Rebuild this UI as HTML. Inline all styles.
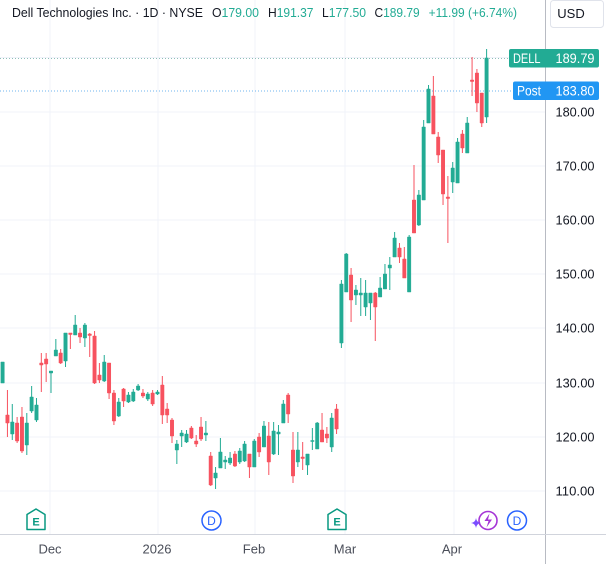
<!DOCTYPE html>
<html><head><meta charset="utf-8"><style>
html,body{margin:0;padding:0;background:#fff;}
svg{display:block;}
text{font-family:"Liberation Sans",sans-serif;}
</style></head><body>
<svg width="606" height="564" viewBox="0 0 606 564" xmlns="http://www.w3.org/2000/svg">
<rect width="606" height="564" fill="#fff"/>
<!-- grid -->
<g stroke="#f0f3fa" stroke-width="1">
<path d="M0 57.5H545M0 112H545M0 166H545M0 220H545M0 274H545M0 328H545M0 383H545M0 437H545M0 491H545"/>
<path d="M50 0V534M158 0V534M255 0V534M345 0V534M454 0V534"/>
</g>
<!-- price lines -->
<path d="M0 58.5H509" stroke="#8fbfb8" stroke-width="1" stroke-dasharray="1 2"/>
<path d="M0 91H513" stroke="#6fb4ef" stroke-width="1" stroke-dasharray="1 2"/>
<!-- up wicks -->
<path stroke="#22ab94" stroke-width="1" fill="none" d="M2.6 362V383M12.28 404V440M26.8 413V455M31.64 386V413M36.48 398V422M51 371V393M55.84 339V356M65.52 333V367M75.2 315V335M84.88 323V347M104.24 355V382M118.76 398V417M128.44 392V403M133.28 389V402M138.12 384V391M147.8 392V401M157.48 390V395M176.84 440V464M181.68 430V447M186.52 430V443M205.88 421V441M215.56 467V489M220.4 438V468M225.24 456V469M230.08 452V465M239.76 448V464M244.6 441V462M254.28 439V467M263.96 421V447M273.64 422V455M278.48 425V455M283.32 400V423M297.84 432V467M307.52 454V475M312.36 428V450M317.2 422V449M331.72 413V452M341.4 280V348M346.24 253V292M355.92 285V305M360.76 278V316M365.6 280V316M370.44 293V320M380.12 277V297M384.96 264V289M389.8 257V290M394.64 232V257M409.16 235V292M418.84 190V226M423.68 120V200M428.52 85V123M452.72 162V193M457.56 138V183M467.24 117V153M486.6 49V123"/>
<!-- up bodies -->
<path fill="#22ab94" stroke="#22ab94" stroke-width="0.5" d="M0.9 362h3.4V383h-3.4ZM10.58 422h3.4V434h-3.4ZM25.1 423h3.4V445h-3.4ZM29.94 397h3.4V411h-3.4ZM34.78 405h3.4V420h-3.4ZM49.3 371h3.4V373h-3.4ZM54.14 350h3.4V356h-3.4ZM63.82 333h3.4V361h-3.4ZM73.5 325h3.4V335h-3.4ZM83.18 325h3.4V338h-3.4ZM102.54 362h3.4V381h-3.4ZM117.06 402h3.4V416h-3.4ZM126.74 395h3.4V402h-3.4ZM131.58 392h3.4V401h-3.4ZM136.42 386h3.4V390h-3.4ZM146.1 394h3.4V399h-3.4ZM155.78 392h3.4V394h-3.4ZM175.14 444h3.4V450h-3.4ZM179.98 433h3.4V436h-3.4ZM184.82 434h3.4V442h-3.4ZM204.18 433h3.4V435h-3.4ZM213.86 473h3.4V478h-3.4ZM218.7 452h3.4V468h-3.4ZM223.54 460h3.4V462h-3.4ZM228.38 458h3.4V463h-3.4ZM238.06 451h3.4V462h-3.4ZM242.9 444h3.4V461h-3.4ZM252.58 441h3.4V467h-3.4ZM262.26 426h3.4V447h-3.4ZM271.94 431h3.4V454h-3.4ZM276.78 432h3.4V434h-3.4ZM281.62 404h3.4V423h-3.4ZM296.14 450h3.4V462h-3.4ZM305.82 454h3.4V465h-3.4ZM310.66 440.5h3.4V441.5h-3.4ZM315.5 423h3.4V449h-3.4ZM330.02 418h3.4V447h-3.4ZM339.7 284h3.4V343h-3.4ZM344.54 254h3.4V292h-3.4ZM354.22 290h3.4V295h-3.4ZM359.06 293h3.4V295h-3.4ZM363.9 293h3.4V307h-3.4ZM368.74 293h3.4V303h-3.4ZM378.42 288h3.4V297h-3.4ZM383.26 274h3.4V289h-3.4ZM388.1 265h3.4V268h-3.4ZM392.94 238h3.4V257h-3.4ZM407.46 237h3.4V292h-3.4ZM417.14 195h3.4V225h-3.4ZM421.98 127h3.4V200h-3.4ZM426.82 89h3.4V123h-3.4ZM451.02 168h3.4V182h-3.4ZM455.86 142h3.4V183h-3.4ZM465.54 123h3.4V153h-3.4ZM484.9 58h3.4V117h-3.4Z"/>
<!-- down wicks -->
<path stroke="#f7525f" stroke-width="1" fill="none" d="M7.44 390V437M17.12 417V443M21.96 407V453M41.32 353V392M46.16 353V382M60.68 349V364M70.36 333V349M80.04 328V343M89.72 333V357M94.56 331V384M99.4 363V383M109.08 363V399M113.92 390V425M123.6 388V407M142.96 389V398M152.64 390V406M162.32 376V424M167.16 403V423M172 418V443M191.36 426V439M196.2 435V447M201.04 417V441M210.72 452V486M234.92 451V467M249.44 454V478M259.12 433V457M268.8 422V475M288.16 393V423M293 432V483M302.68 442V470M322.04 413V442M326.88 427V443M336.56 404V434M351.08 268V322M375.28 292V341M399.48 243V263M404.32 247V278M414 165V233M433.36 76V134M438.2 132V163M443.04 150V205M447.88 176V243M462.4 130V153M472.08 57V96M476.92 69V112M481.76 93V127"/>
<!-- down bodies -->
<path fill="#f7525f" stroke="#f7525f" stroke-width="0.5" d="M5.74 415h3.4V423h-3.4ZM15.42 423h3.4V441h-3.4ZM20.26 417h3.4V451h-3.4ZM39.62 363h3.4V365h-3.4ZM44.46 359h3.4V364h-3.4ZM58.98 353h3.4V363h-3.4ZM68.66 333h3.4V334.5h-3.4ZM78.34 333h3.4V337h-3.4ZM88.02 334h3.4V335.5h-3.4ZM92.86 336h3.4V383h-3.4ZM97.7 375h3.4V380h-3.4ZM107.38 363h3.4V393h-3.4ZM112.22 393h3.4V421h-3.4ZM121.9 389h3.4V401h-3.4ZM141.26 393h3.4V396h-3.4ZM150.94 393h3.4V404h-3.4ZM160.62 385h3.4V415h-3.4ZM165.46 409h3.4V415h-3.4ZM170.3 420h3.4V436h-3.4ZM189.66 428h3.4V438h-3.4ZM194.5 441h3.4V444h-3.4ZM199.34 427h3.4V439h-3.4ZM209.02 456h3.4V485h-3.4ZM233.22 454h3.4V466h-3.4ZM247.74 454h3.4V467h-3.4ZM257.42 437h3.4V452h-3.4ZM267.1 436h3.4V462h-3.4ZM286.46 395h3.4V414h-3.4ZM291.3 450h3.4V476h-3.4ZM300.98 457h3.4V458.5h-3.4ZM320.34 430h3.4V442h-3.4ZM325.18 434h3.4V438h-3.4ZM334.86 409h3.4V429h-3.4ZM349.38 275h3.4V300h-3.4ZM373.58 293h3.4V307h-3.4ZM397.78 248h3.4V257h-3.4ZM402.62 259h3.4V278h-3.4ZM412.3 200h3.4V233h-3.4ZM431.66 96h3.4V134h-3.4ZM436.5 137h3.4V155h-3.4ZM441.34 150h3.4V194h-3.4ZM446.18 197h3.4V198.5h-3.4ZM460.7 134h3.4V148h-3.4ZM470.38 80h3.4V81.5h-3.4ZM475.22 73h3.4V103h-3.4ZM480.06 93h3.4V123h-3.4Z"/>
<!-- axes separators -->
<path d="M545.5 0V564" stroke="#b8bbc3" stroke-width="1"/>
<path d="M0 534.5H606" stroke="#d1d4dc" stroke-width="1"/>
<!-- header -->
<g font-size="13" fill="#131722">
<text x="12" y="17" textLength="191" lengthAdjust="spacingAndGlyphs">Dell Technologies Inc. · 1D · NYSE</text>
<text x="212" y="17" textLength="47" lengthAdjust="spacingAndGlyphs">O<tspan fill="#22ab94">179.00</tspan></text>
<text x="268" y="17" textLength="45.5" lengthAdjust="spacingAndGlyphs">H<tspan fill="#22ab94">191.37</tspan></text>
<text x="322" y="17" textLength="44" lengthAdjust="spacingAndGlyphs">L<tspan fill="#22ab94">177.50</tspan></text>
<text x="374.5" y="17" textLength="45.2" lengthAdjust="spacingAndGlyphs">C<tspan fill="#22ab94">189.79</tspan></text>
<text x="428.6" y="17" textLength="88.4" lengthAdjust="spacingAndGlyphs" fill="#22ab94">+11.99 (+6.74%)</text>
</g>
<!-- USD box -->
<rect x="550.5" y="0.5" width="53" height="27" rx="3" fill="#fff" stroke="#e0e3eb"/>
<text x="571" y="18" font-size="13" fill="#131722" text-anchor="middle">USD</text>
<!-- price axis labels -->
<g font-size="13" fill="#131722" text-anchor="end">
<text x="594.5" y="116.5" textLength="39" lengthAdjust="spacingAndGlyphs">180.00</text>
<text x="594.5" y="170.5" textLength="39" lengthAdjust="spacingAndGlyphs">170.00</text>
<text x="594.5" y="224.5" textLength="39" lengthAdjust="spacingAndGlyphs">160.00</text>
<text x="594.5" y="278.5" textLength="39" lengthAdjust="spacingAndGlyphs">150.00</text>
<text x="594.5" y="332.5" textLength="39" lengthAdjust="spacingAndGlyphs">140.00</text>
<text x="594.5" y="387.5" textLength="39" lengthAdjust="spacingAndGlyphs">130.00</text>
<text x="594.5" y="441.5" textLength="39" lengthAdjust="spacingAndGlyphs">120.00</text>
<text x="594.5" y="495.5" textLength="39" lengthAdjust="spacingAndGlyphs">110.00</text>
</g>
<!-- price tags -->
<rect x="509" y="49" width="90" height="18.5" rx="2" fill="#22ab94"/>
<text x="513" y="63" font-size="13.5" fill="#fff" textLength="27.5" lengthAdjust="spacingAndGlyphs">DELL</text>
<text x="594.5" y="63" font-size="13.5" fill="#fff" text-anchor="end" textLength="39" lengthAdjust="spacingAndGlyphs">189.79</text>
<rect x="513" y="81.5" width="86" height="18.5" rx="2" fill="#2196f3"/>
<text x="517" y="95.5" font-size="13.5" fill="#fff" textLength="24" lengthAdjust="spacingAndGlyphs">Post</text>
<text x="594.5" y="95.5" font-size="13.5" fill="#fff" text-anchor="end" textLength="39" lengthAdjust="spacingAndGlyphs">183.80</text>
<!-- time axis -->
<g font-size="13" fill="#4a4e59" text-anchor="middle">
<text x="50" y="553.5">Dec</text>
<text x="157" y="553.5">2026</text>
<text x="254" y="553.5">Feb</text>
<text x="345" y="553.5">Mar</text>
<text x="452" y="553.5">Apr</text>
</g>
<!-- event icons -->
<g fill="#fff" stroke="#089981" stroke-width="1.5" stroke-linejoin="round">
<path d="M36 509 L45 514.5 V529.5 H27 V514.5 Z"/>
<path d="M337 509 L346 514.5 V529.5 H328 V514.5 Z"/>
</g>
<g font-size="11" font-weight="bold" fill="#089981" text-anchor="middle">
<text x="36" y="525.5">E</text>
<text x="337" y="525.5">E</text>
</g>
<g fill="#fff" stroke="#2962ff" stroke-width="1.5">
<circle cx="211.5" cy="520.5" r="9.5"/>
<circle cx="517" cy="520.5" r="9.5"/>
</g>
<g font-size="12" fill="#2962ff" text-anchor="middle">
<text x="211.5" y="525">D</text>
<text x="517" y="525">D</text>
</g>
<circle cx="488" cy="520.5" r="9" fill="#fff" stroke="#a535d6" stroke-width="1.6"/>
<path d="M489.5 513.5 L484.5 521 H488.5 L486.5 527.5 L492 519.5 H488 Z" fill="#a535d6"/>
<path d="M476 518 Q476.6 522.4 481 523 Q476.6 523.6 476 528 Q475.4 523.6 471 523 Q475.4 522.4 476 518 Z" fill="#7b4dff"/>
</svg>
</body></html>
